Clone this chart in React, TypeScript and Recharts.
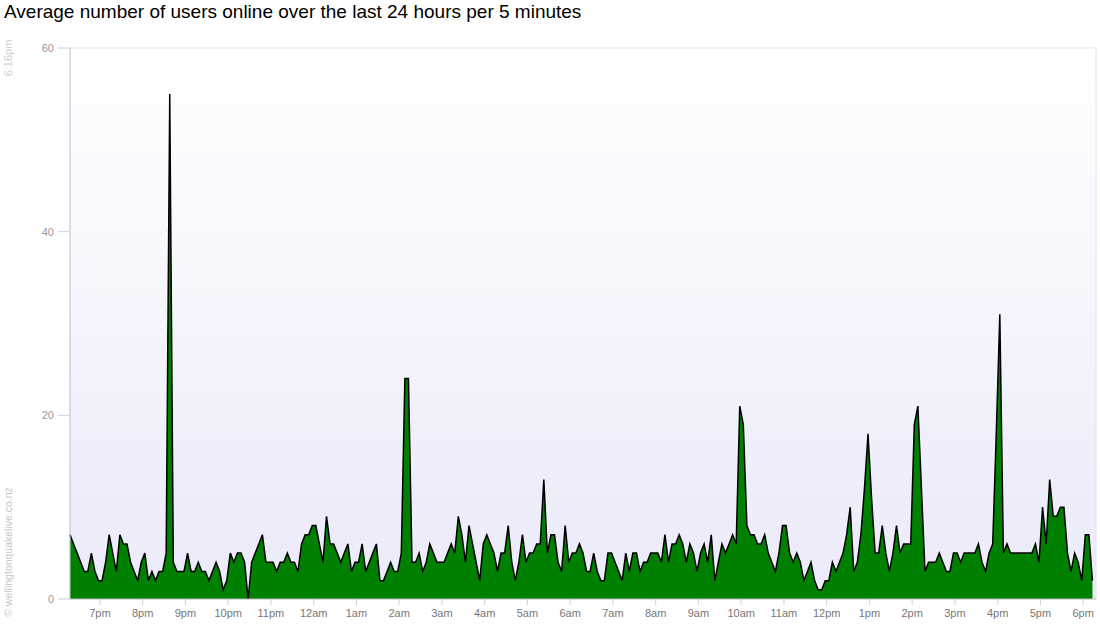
import React from "react";
import { AreaChart, Area, XAxis, YAxis, CartesianGrid } from "recharts";

// users online, one value per 5 minutes, starting 6:16pm
const USERS_A = [7, 6, 5, 4, 3, 3, 5, 3, 2, 2, 4, 7, 5, 3, 7, 6, 6, 4, 3, 2, 4, 5, 2, 3, 2, 3, 3, 5, 55];
const USERS_B = [4, 3, 3, 3, 5, 3, 3, 4, 3, 3, 2, 3, 4, 3, 1, 2, 5, 4, 5, 5, 4, 0, 4, 5, 6, 7, 4, 4];
const USERS_C = [4, 3, 4, 4, 5, 4, 4, 3, 6, 7, 7, 8, 8, 6, 4, 9, 6, 6, 5, 4, 5, 6, 3, 4, 4, 6, 3, 4];
const USERS_D = [5, 6, 2, 2, 3, 4, 3, 3, 5, 24, 24, 4, 4, 5, 3, 4, 6, 5, 4, 4, 4, 5, 6, 5, 9, 7, 4, 8];
const USERS_E = [
  6, 4, 2, 6, 7, 6, 5, 3, 5, 5, 8, 4, 2, 4, 7, 4, 5, 5, 6, 6, 13, 5, 7, 7, 4, 3, 8, 4, 5, 5,
  6, 5, 3, 3, 5, 3, 2, 2, 5, 5, 4, 3, 2, 5, 3, 5, 5, 3, 4, 4, 5, 5, 5, 4, 7, 4,
];
const USERS_F = [6, 6, 7, 6, 4, 6, 5, 3, 5, 6, 4, 7, 2, 4, 6, 5, 6, 7, 6, 21, 19, 8, 7, 7, 6, 6, 7];
const USERS_G = [
  5, 4, 3, 5, 8, 8, 5, 4, 5, 4, 2, 3, 4, 2, 1, 1, 2, 2, 4, 3,
  4, 5, 7, 10, 3, 4, 7, 12, 18, 11, 5, 5, 8, 5, 3, 5, 8, 5, 6, 6,
  6, 19, 21, 12, 3, 4, 4, 4, 5, 4, 3, 3, 5, 5, 4, 5, 5, 5, 5, 6,
  4, 3, 5, 6, 18, 31, 5, 6, 5, 5, 5, 5, 5, 5, 5, 6, 4, 10, 6, 13,
  9, 9, 10, 10, 5, 3, 5, 4, 2, 7, 7, 2,
];

const HOUR_LABELS = [
  "7pm", "8pm", "9pm", "10pm", "11pm", "12am", "1am", "2am", "3am", "4am", "5am", "6am",
  "7am", "8am", "9am", "10am", "11am", "12pm", "1pm", "2pm", "3pm", "4pm", "5pm", "6pm",
];
const Y_TICKS = [0, 20, 40, 60];
const START_LABEL = "6:16pm";
const FIRST_HOUR_OFFSET = 42; // minutes from first sample to 7pm

const USERS = [...USERS_A, ...USERS_B, ...USERS_C, ...USERS_D, ...USERS_E, ...USERS_F, ...USERS_G];
const data = USERS.map((v, i) => ({ t: i * 5, users: v }));
const hourTicks = HOUR_LABELS.map((_, k) => FIRST_HOUR_OFFSET + k * 60);

const W = 1100;
const H = 640;

export default function App() {
  return (
    <div style={{ position: "absolute", left: 0, top: 0, width: W, height: H, background: "#fff", fontFamily: "'Liberation Sans', Arial, sans-serif" }}>
      <div style={{ position: "absolute", left: 4, top: 1, fontSize: 19, color: "#000", whiteSpace: "nowrap" }}>
        Average number of users online over the last 24 hours per 5 minutes
      </div>
      <AreaChart width={W} height={H} data={data} margin={{ top: 48, right: 4, left: 10, bottom: 11 }}>
        <defs>
          <linearGradient id="plotBg" x1="0" y1="0" x2="0" y2="1">
            <stop offset="0%" stopColor="#ffffff" />
            <stop offset="100%" stopColor="#eaeafa" />
          </linearGradient>
        </defs>
        <CartesianGrid
          fill="url(#plotBg)"
          stroke="#e4e4ec"
          horizontalPoints={[48]}
          verticalPoints={[1096]}
        />
        <XAxis
          dataKey="t"
          type="number"
          domain={[0, 1440]}
          ticks={hourTicks}
          tickFormatter={(v: number) => HOUR_LABELS[Math.round((v - FIRST_HOUR_OFFSET) / 60)]}
          interval={0}
          height={30}
          tickSize={6}
          tickMargin={4}
          axisLine={{ stroke: "#b8b8c0" }}
          tickLine={{ stroke: "#d0d0d8" }}
          tick={{ fill: "#777", fontSize: 11 }}
        />
        <YAxis
          domain={[0, 60]}
          ticks={Y_TICKS}
          width={60}
          tickSize={12}
          tickMargin={4}
          axisLine={{ stroke: "#b8bcd0" }}
          tickLine={{ stroke: "#d0d0d8" }}
          tick={{ fill: "#999", fontSize: 11 }}
        />
        <Area
          type="linear"
          dataKey="users"
          stroke="#000"
          strokeWidth={1.5}
          fill="#008000"
          fillOpacity={1}
          isAnimationActive={false}
          dot={false}
          activeDot={false}
        />
      </AreaChart>
      <div style={{ position: "absolute", left: 1, top: 58, transform: "translate(0, -50%) rotate(-90deg)", transformOrigin: "center", fontSize: 11, color: "#d0d0d0", whiteSpace: "nowrap", width: 14, display: "flex", justifyContent: "center" }}>
        <span>{START_LABEL}</span>
      </div>
      <div style={{ position: "absolute", left: 1, top: 552, transform: "translate(0, -50%) rotate(-90deg)", transformOrigin: "center", fontSize: 10.5, color: "#c8c8c8", whiteSpace: "nowrap", width: 14, display: "flex", justifyContent: "center" }}>
        <span>© wellingtonquakelive.co.nz</span>
      </div>
    </div>
  );
}
